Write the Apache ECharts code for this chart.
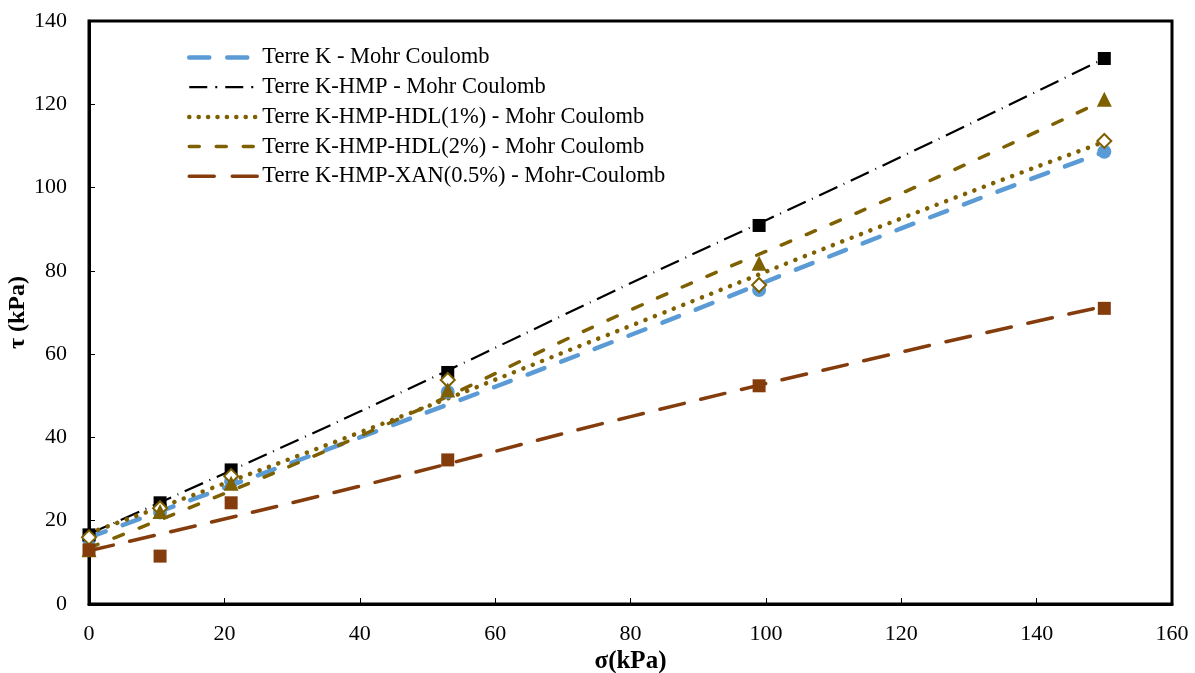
<!DOCTYPE html>
<html>
<head>
<meta charset="utf-8">
<script src="https://cdn.jsdelivr.net/npm/echarts@6/dist/echarts.min.js"></script>
<style>html,body{margin:0;padding:0;background:#fff}#c{width:1195px;height:673px}</style>
</head>
<body>
<div id="c"></div>
<script>
// Measured points (sigma kPa, tau kPa)
const terreK      = [[0,15.5],[10.5,22],[21,29.4],[53,50.9],[99,75.4],[150,108.6]];
const terreKHMP   = [[0,16.6],[10.5,24.3],[21,32.2],[53,55.6],[99,90.9],[150,131]];
const hdl1        = [[0,16],[10.5,23],[21,30.7],[53,53.8],[99,76.6],[150,111.2]];
const hdl2        = [[0,13],[10.5,22.2],[21,29],[53,51.4],[99,81.8],[150,121.2]];
const xan05       = [[0,13],[10.5,11.5],[21,24.3],[53,34.6],[99,52.4],[150,71.0]];

// Mohr-Coulomb envelopes
const mcTerreK    = [[0,16],[40,40],[80,64.6],[120,90.2],[150,108.6]];
const mcTerreKHMP = [[0,16.8],[40,46.2],[80,77],[120,107.4],[150,131]];
const mcHdl1      = [[0,17],[40,41.2],[80,66.8],[120,92.6],[150,111]];
const mcHdl2      = [[0,13.5],[40,40.3],[80,70.6],[120,98.6],[150,121]];
const mcXan05     = [[0,12.8],[40,28.3],[80,45],[120,60.5],[150,71.5]];

const names = [
  'Terre K - Mohr Coulomb',
  'Terre K-HMP - Mohr Coulomb',
  'Terre K-HMP-HDL(1%) - Mohr Coulomb',
  'Terre K-HMP-HDL(2%) - Mohr Coulomb',
  'Terre K-HMP-XAN(0.5%) - Mohr-Coulomb'
];
const xTicks = [0,20,40,60,80,100,120,140,160];
const yTicks = [0,20,40,60,80,100,120,140];

const BLUE = '#5B9BD5', BLACK = '#000000', OLIVE = '#7F6000', BROWN = '#843C0C';
const FONT = '"Liberation Serif","DejaVu Serif",serif';

const styles = [
  {color: BLUE,  width: 4.5, dash: [18, 18], cap: 'round', legendDash: [20, 18]},
  {color: BLACK, width: 2.2, dash: [20, 7, 1, 7], cap: 'butt', legendDash: [18, 8, 2, 8]},
  {color: OLIVE, width: 4.5, dash: [0.1, 10], cap: 'round', legendDash: [0.1, 9.3]},
  {color: OLIVE, width: 3.5, dash: [10, 17], cap: 'round', legendDash: [10, 17]},
  {color: BROWN, width: 3.5, dash: [25, 17], cap: 'round', legendDash: [25, 18]}
];

function scatter(data, symbol, size, color, hollow) {
  return {
    type: 'scatter', data: data, symbol: symbol, symbolSize: size, z: 5,
    itemStyle: hollow ? {color: '#fff', borderColor: color, borderWidth: 2, opacity: 1} : {color: color, opacity: 1},
    emphasis: {disabled: true}
  };
}
function trend(i, data) {
  const s = styles[i];
  return {
    name: names[i], type: 'line', data: data, smooth: true, symbol: 'none', z: 3,
    lineStyle: {color: s.color, width: s.width, type: s.dash, cap: s.cap},
    itemStyle: {color: s.color}
  };
}

const chart = echarts.init(document.getElementById('c'));
chart.setOption({
  animation: false,
  backgroundColor: '#fff',
  grid: {left: 89, right: 23, top: 21, bottom: 69, outerBoundsMode: 'none', containLabel: false,
    show: true, borderColor: '#000', borderWidth: 3, backgroundColor: 'transparent'},
  legend: {
    data: names.map((n, i) => ({
      name: n,
      lineStyle: {width: styles[i].width, type: styles[i].legendDash, cap: styles[i].cap, color: styles[i].color}
    })),
    orient: 'vertical', left: 182, top: 41, itemWidth: 68, itemHeight: 14, itemGap: 6.7,
    itemStyle: {opacity: 0},
    textStyle: {fontFamily: FONT, fontSize: 22.5, lineHeight: 20, color: '#000', padding: [0,0,0,0]}
  },
  xAxis: {
    type: 'value', min: 0, max: 160, interval: 20,
    name: 'σ(kPa)', nameLocation: 'middle', nameGap: 45, nameMoveOverlap: false,
    nameTextStyle: {fontFamily: FONT, fontSize: 25, fontWeight: 'bold', color: '#000'},
    axisLine: {show: true, onZero: false, lineStyle: {color: '#000', width: 3}},
    axisTick: {show: true, inside: true, length: 6, lineStyle: {color: '#000', width: 1}},
    axisLabel: {fontFamily: FONT, fontSize: 22, color: '#000', margin: 19,
      formatter: v => xTicks.includes(v) ? String(v) : ''},
    splitLine: {show: false}
  },
  yAxis: {
    type: 'value', min: 0, max: 140, interval: 20,
    name: 'τ (kPa)', nameLocation: 'middle', nameGap: 59, nameRotate: 90, nameMoveOverlap: false,
    nameTextStyle: {fontFamily: FONT, fontSize: 24, fontWeight: 'bold', color: '#000'},
    axisLine: {show: true, onZero: false, lineStyle: {color: '#000', width: 3}},
    axisTick: {show: true, inside: true, length: 6, lineStyle: {color: '#000', width: 1}},
    axisLabel: {fontFamily: FONT, fontSize: 22, color: '#000', margin: 22,
      formatter: v => yTicks.includes(v) ? String(v) : ''},
    splitLine: {show: false}
  },
  series: [
    trend(0, mcTerreK),
    trend(1, mcTerreKHMP),
    trend(2, mcHdl1),
    trend(3, mcHdl2),
    trend(4, mcXan05),
    scatter(terreK, 'circle', 14, BLUE),
    scatter(terreKHMP, 'rect', 13, BLACK),
    scatter(hdl1, 'diamond', 14, OLIVE, true),
    scatter(hdl2, 'triangle', 15, OLIVE),
    scatter(xan05, 'rect', 13, BROWN)
  ]
});
</script>
</body>
</html>
